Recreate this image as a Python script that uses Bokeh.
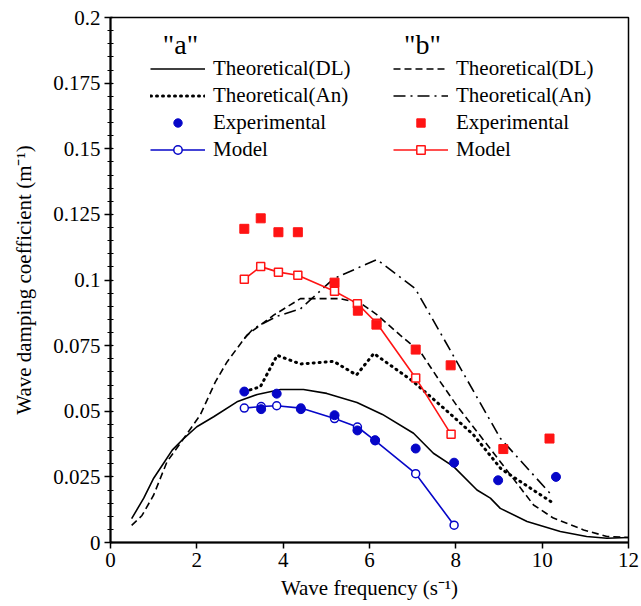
from bokeh.plotting import figure
from bokeh.models import (Range1d, FixedTicker, CustomJSTickFormatter, Legend,
                          LegendItem, Label)
from bokeh.embed import file_html
from bokeh.resources import INLINE

# ---- data -------------------------------------------------------------
# Theoretical curves, case "a"
dl_a_x = [0.49, 0.77, 1.0, 1.23, 1.43, 1.70, 2.0, 2.39, 2.93, 3.40, 3.94, 4.47,
          5.01, 5.71, 6.30, 7.02, 7.48, 7.95, 8.49, 8.80, 9.03, 9.65, 10.42,
          11.03, 11.5, 12.0]
dl_a_y = [0.0091, 0.0169, 0.0245, 0.0302, 0.0352, 0.0397, 0.0441, 0.0479,
          0.0536, 0.0564, 0.0583, 0.0583, 0.0568, 0.0533, 0.0488, 0.0416,
          0.0340, 0.0289, 0.0200, 0.0169, 0.0130, 0.0080, 0.0042, 0.0023,
          0.0016, 0.0019]
an_a_x = [3.10, 3.47, 3.86, 4.40, 5.17, 5.70, 6.10, 7.0, 7.87, 8.41, 9.05, 10.2]
an_a_y = [0.0575, 0.0593, 0.0713, 0.0680, 0.0690, 0.0638, 0.0720, 0.0615,
          0.0490, 0.0410, 0.0280, 0.0156]

# Theoretical curves, case "b"
dl_b_x = [0.49, 0.73, 1.0, 1.31, 1.70, 2.08, 2.43, 2.70, 3.16, 3.78, 4.40, 5.32,
          5.79, 6.17, 6.71, 7.18, 7.64, 8.02, 9.03, 9.80, 10.26, 10.96, 11.5, 12.0]
dl_b_y = [0.0065, 0.0103, 0.0181, 0.0308, 0.0397, 0.0486, 0.0612, 0.0688,
          0.0790, 0.0866, 0.0929, 0.0929, 0.0912, 0.0868, 0.0790, 0.0726,
          0.0612, 0.0522, 0.0308, 0.0143, 0.0093, 0.0048, 0.0023, 0.0019]
an_b_x = [3.10, 3.31, 3.86, 4.40, 5.17, 6.17, 7.06, 9.03, 10.19]
an_b_y = [0.0776, 0.0815, 0.0862, 0.0890, 0.1005, 0.1078, 0.0967, 0.0397, 0.0186]

# Experimental and model values, case "a"
exp_a_x = [3.10, 3.49, 3.85, 4.41, 5.19, 5.72, 6.13, 7.07, 7.96, 8.98, 10.32]
exp_a_y = [0.0575, 0.0508, 0.0567, 0.0508, 0.0485, 0.0427, 0.0390, 0.0358,
           0.0304, 0.0237, 0.0250]
mod_a_x = [3.10, 3.49, 3.85, 4.41, 5.19, 5.72, 6.13, 7.07, 7.96]
mod_a_y = [0.0512, 0.0518, 0.0521, 0.0512, 0.0472, 0.0440, 0.0388, 0.0262, 0.0066]

# Experimental and model values, case "b"
exp_b_x = [3.10, 3.48, 3.89, 4.34, 5.19, 5.73, 6.16, 7.07, 7.88, 9.10, 10.17]
exp_b_y = [0.1195, 0.1235, 0.1182, 0.1182, 0.0990, 0.0883, 0.0830, 0.0735,
           0.0675, 0.0356, 0.0396]
mod_b_x = [3.10, 3.48, 3.89, 4.34, 5.19, 5.72, 6.17, 7.07, 7.89]
mod_b_y = [0.1003, 0.1051, 0.1030, 0.1018, 0.0957, 0.0910, 0.0835, 0.0627, 0.0412]

x_ticks = [0, 2, 4, 6, 8, 10, 12]
y_ticks = [0, 0.025, 0.05, 0.075, 0.1, 0.125, 0.15, 0.175, 0.2]

# ---- styling ----------------------------------------------------------
FONT = "Liberation Serif"
BLUE = "#0606c8"
RED = "#ff1414"

p = figure(width=641, height=606, output_backend="svg", toolbar_location=None,
           x_range=Range1d(0, 12), y_range=Range1d(0, 0.2),
           min_border_left=110, min_border_right=13, min_border_top=17,
           min_border_bottom=64)
p.grid.visible = False
p.outline_line_color = "black"
p.outline_line_width = 1.5
p.background_fill_color = "white"
p.border_fill_color = "white"

# axes
p.xaxis.ticker = FixedTicker(ticks=x_ticks, minor_ticks=[])
minor_y = [i * 0.005 for i in range(41)]
p.yaxis.ticker = FixedTicker(ticks=y_ticks, minor_ticks=minor_y)
p.yaxis.formatter = CustomJSTickFormatter(code="return String(+tick.toFixed(3));")
p.xaxis.axis_label = "Wave frequency (s\u207b\u00b9)"
p.yaxis.axis_label = "Wave damping coefficient (m\u207b\u00b9)"
for ax in (p.xaxis, p.yaxis):
    ax.axis_line_width = 2
    ax.axis_line_color = "black"
    ax.major_tick_line_width = 1.5
    ax.major_tick_line_color = "black"
    ax.minor_tick_line_color = "black"
    ax.minor_tick_line_width = 1.2
    ax.major_label_text_font = FONT
    ax.major_label_text_font_size = "21px"
    ax.major_label_text_color = "black"
    ax.axis_label_text_font = FONT
    ax.axis_label_text_font_size = "21px"
    ax.axis_label_text_font_style = "normal"
    ax.axis_label_text_color = "black"
p.xaxis.major_tick_out = 6
p.xaxis.major_tick_in = 0
p.xaxis.major_label_standoff = 4
p.xaxis.axis_label_standoff = 6
p.yaxis.major_tick_out = 6
p.yaxis.major_tick_in = 2
p.yaxis.minor_tick_out = 3
p.yaxis.minor_tick_in = 3
p.yaxis.major_label_standoff = 4
p.yaxis.axis_label_standoff = 14

# theoretical curves
r_dl_a = p.line(dl_a_x, dl_a_y, line_color="black", line_width=1.6)
r_an_a = p.line(an_a_x, an_a_y, line_color="black", line_width=3,
                line_dash="1 5", line_cap="round")
r_dl_b = p.line(dl_b_x, dl_b_y, line_color="black", line_width=1.6,
                line_dash="7 4")
r_an_b = p.line(an_b_x, an_b_y, line_color="black", line_width=1.6,
                line_dash="12 5 2 5")

# model curves
r_mod_a_l = p.line(mod_a_x, mod_a_y, line_color=BLUE, line_width=1.6)
r_mod_b_l = p.line(mod_b_x, mod_b_y, line_color=RED, line_width=1.6)
r_mod_a_m = p.scatter(mod_a_x, mod_a_y, marker="circle", size=8,
                      line_color=BLUE, line_width=1.5, fill_color="white")
r_mod_b_m = p.scatter(mod_b_x, mod_b_y, marker="square", size=8,
                      line_color=RED, line_width=1.5, fill_color="white")

# experimental points
r_exp_a = p.scatter(exp_a_x, exp_a_y, marker="circle", size=9,
                    line_color=BLUE, fill_color=BLUE)
r_exp_b = p.scatter(exp_b_x, exp_b_y, marker="square", size=9,
                    line_color=RED, fill_color=RED)


def make_legend(items, x, y):
    lg = Legend(items=items, location=(x, y), border_line_color=None,
                background_fill_alpha=0, padding=0, margin=0, spacing=2,
                glyph_width=55, glyph_height=21, label_height=21,
                label_standoff=8, label_text_font=FONT,
                label_text_font_size="21px", label_text_color="black")
    return lg


leg_a = make_legend([
    LegendItem(label="Theoretical(DL)", renderers=[r_dl_a]),
    LegendItem(label="Theoretical(An)", renderers=[r_an_a]),
    LegendItem(label="Experimental", renderers=[r_exp_a]),
    LegendItem(label="Model", renderers=[r_mod_a_l, r_mod_a_m]),
], 40, 380)
leg_b = make_legend([
    LegendItem(label="Theoretical(DL)", renderers=[r_dl_b]),
    LegendItem(label="Theoretical(An)", renderers=[r_an_b]),
    LegendItem(label="Experimental", renderers=[r_exp_b]),
    LegendItem(label="Model", renderers=[r_mod_b_l, r_mod_b_m]),
], 283, 380)
p.add_layout(leg_a)
p.add_layout(leg_b)

# group headers
for txt, sx in (('"a"', 70), ('"b"', 312)):
    p.add_layout(Label(x=sx, y=498, x_units="screen", y_units="screen",
                       text=txt, text_font=FONT, text_font_size="28px",
                       text_align="center", text_baseline="middle",
                       text_color="black"))

open("out.html", "w").write(file_html(p, INLINE))
